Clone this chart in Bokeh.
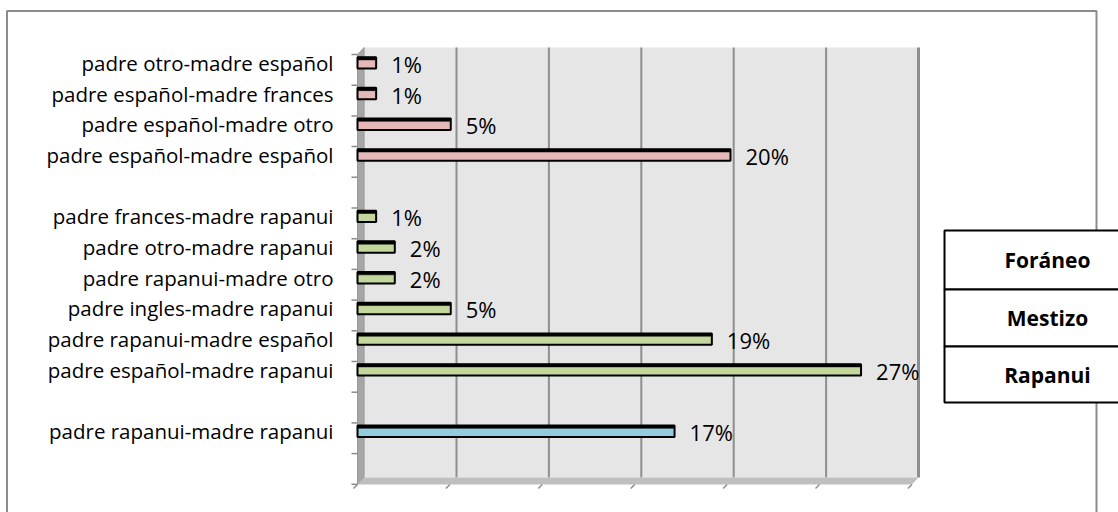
from bokeh.plotting import figure
from bokeh.models import Range1d, ColumnDataSource
from bokeh.core.properties import value
from bokeh.embed import file_html
from bokeh.resources import INLINE

# ---- data ----
categories = [
    "padre otro-madre español",
    "padre español-madre frances",
    "padre español-madre otro",
    "padre español-madre español",
    "padre frances-madre rapanui",
    "padre otro-madre rapanui",
    "padre rapanui-madre otro",
    "padre ingles-madre rapanui",
    "padre rapanui-madre español",
    "padre español-madre rapanui",
    "padre rapanui-madre rapanui",
]
values = [1, 1, 5, 20, 1, 2, 2, 5, 19, 27, 17]
groups = ["Foráneo"] * 4 + ["Mestizo"] * 6 + ["Rapanui"]
legend_labels = ["Foráneo", "Mestizo", "Rapanui"]
grid_values = [5, 10, 15, 20, 25, 30]
group_colors = {"Foráneo": "#E6B9B8", "Mestizo": "#C3D69B", "Rapanui": "#93CDDD"}

# ---- slot layout (one blank slot after each group) ----
N_SLOTS = 14
slot = 0
ys = []
prev = None
for g in groups:
    if prev is not None and g != prev:
        slot += 1
    slot += 1
    ys.append(N_SLOTS - slot + 0.5)
    prev = g

# ---- canvas geometry: data <-> pixel ----
W, H = 1118, 512
X0, PXU = 357.0, 18.65      # pixel of value 0, pixels per percent
Y0, PYU = 47.0, 30.7        # pixel of slot top (y=14), pixels per slot
def xd(px):
    return (px - X0) / PXU
def yd(py):
    return N_SLOTS - (py - Y0) / PYU

BACK_X0, BACK_PX = 363.6, 18.48   # back wall of the 3D box
WALL_TOP, WALL_BOT, DEPTH_X, DEPTH_Y = 47.0, 477.0, 6.6, 7.0
BAR_H = 0.37

p = figure(width=W, height=H, x_range=Range1d(xd(0), xd(W)), y_range=Range1d(yd(H), yd(0)),
           output_backend="svg", toolbar_location=None, min_border=0,
           x_axis_location=None, y_axis_location=None,
           background_fill_color="white", border_fill_color="white", outline_line_color=None)
p.grid.visible = False

# outer chart border
p.quad(left=xd(6.5), right=xd(1096), top=yd(10.5), bottom=yd(H + 30),
       fill_color=None, line_color="#8C8C8C", line_width=2)

# back wall
back_right = BACK_X0 + BACK_PX * grid_values[-1]
p.quad(left=xd(BACK_X0), right=xd(back_right), top=yd(WALL_TOP), bottom=yd(WALL_BOT),
       fill_color="#E6E6E6", line_color=None)

# vertical gridlines on the back wall
gx = [xd(BACK_X0 + BACK_PX * v) for v in grid_values]
p.segment(x0=gx, x1=gx, y0=yd(WALL_TOP), y1=yd(WALL_BOT), line_color="#8E8E8E",
          line_width=[2] * (len(gx) - 1) + [3])

# left side wall and floor
lx = BACK_X0 - DEPTH_X
p.patch(x=[xd(lx), xd(BACK_X0), xd(BACK_X0), xd(lx)],
        y=[yd(WALL_TOP + DEPTH_Y), yd(WALL_TOP), yd(WALL_BOT), yd(WALL_BOT + DEPTH_Y)],
        fill_color="#A6A6A6", line_color="#9A9A9A", line_width=1)
p.patch(x=[xd(lx), xd(BACK_X0), xd(back_right), xd(back_right - DEPTH_X)],
        y=[yd(WALL_BOT + DEPTH_Y), yd(WALL_BOT), yd(WALL_BOT), yd(WALL_BOT + DEPTH_Y)],
        fill_color="#BFBFBF", line_color=None)

# bottom tick marks (front edge of the floor)
fx = [xd(lx + BACK_PX * v) for v in [0] + grid_values]
p.segment(x0=fx, x1=[x - 4 / PXU for x in fx], y0=yd(WALL_BOT + DEPTH_Y),
          y1=yd(WALL_BOT + DEPTH_Y + 4), line_color="#8C8C8C", line_width=1.5)

# left tick marks between slots (front plane)
tk = [k - DEPTH_Y / PYU for k in range(N_SLOTS + 1)]
p.segment(x0=xd(lx - 6), x1=xd(lx), y0=tk, y1=tk, line_color="#8C8C8C", line_width=1.5)

# bars
src = ColumnDataSource(dict(
    y=ys, v=values, color=[group_colors[g] for g in groups],
    label=[f"{v}%" for v in values],
    ytop=[y + BAR_H / 2 - 0.045 for y in ys],
))
p.hbar(y="y", left=0, right="v", height=BAR_H, fill_color="color",
       line_color="black", line_width=2, source=src)
# dark top face of the 3D bars
p.hbar(y="ytop", left=0, right="v", height=0.09, fill_color="black",
       line_color="black", line_width=0.5, source=src)

# value labels
p.text(x="v", y="y", text="label", x_offset=15, y_offset=1, text_baseline="middle",
       text_font=value("Open Sans"), text_font_size=value("22px"), text_color="black",
       source=src)

# category labels
p.text(x=xd(333), y=ys, text=categories, text_align="right", text_baseline="middle",
       text_font=value("Open Sans"), text_font_size=value("20.5px"), text_color="black")

# legend table
row_edges = [230, 289, 346, 402]
p.quad(left=xd(944), right=xd(W + 40), top=[yd(t) for t in row_edges[:-1]],
       bottom=[yd(b) for b in row_edges[1:]], fill_color="white", line_color="black",
       line_width=2)
p.text(x=xd(1047), y=[yd((row_edges[i] + row_edges[i + 1]) / 2) for i in range(3)],
       text=legend_labels, text_align="center", text_baseline="middle",
       text_font=value("Open Sans"), text_font_style="bold", text_font_size=value("21px"),
       text_color="black")

open("out.html", "w").write(file_html(p, INLINE))
